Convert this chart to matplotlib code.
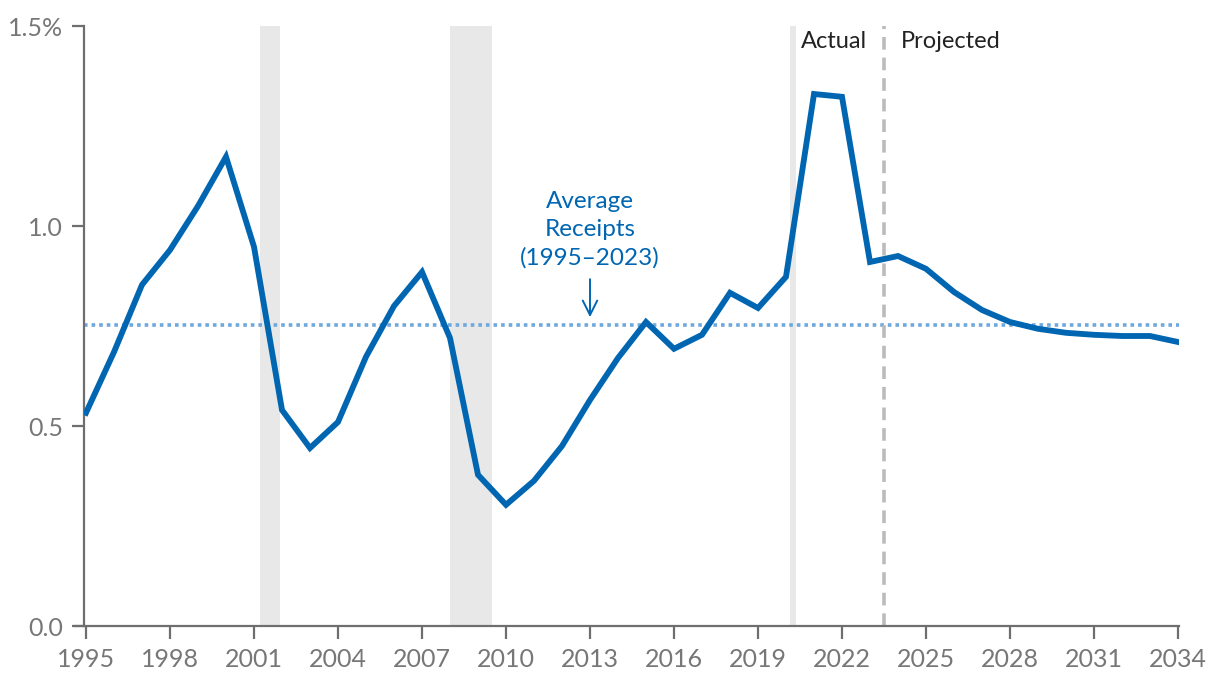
import matplotlib.pyplot as plt
import numpy as np

years = list(range(1995, 2035))
receipts = [0.533, 0.685, 0.853, 0.94, 1.05, 1.173, 0.948, 0.54, 0.445, 0.51,
            0.673, 0.80, 0.885, 0.72, 0.378, 0.303, 0.363, 0.45, 0.565, 0.67,
            0.76, 0.693, 0.728, 0.833, 0.795, 0.873, 1.33, 1.323, 0.91, 0.925,
            0.893, 0.835, 0.79, 0.76, 0.743, 0.733, 0.728, 0.725, 0.725, 0.71]
average = 0.752
recessions = [(2001.21, 2001.93), (2008.0, 2009.5), (2020.14, 2020.36)]
split_year = 2023.5
xticks = list(range(1995, 2035, 3))
yticks = [0.0, 0.5, 1.0, 1.5]
ylabels = ["0.0", "0.5", "1.0", "1.5%"]

blue = "#0066b2"
gray = "#6e6e6e"

plt.rcParams["font.family"] = ["Lato", "DejaVu Sans"]

fig = plt.figure(figsize=(12.2, 6.88), dpi=100)
ax = fig.add_axes([84 / 1220, 62 / 688, 1095 / 1220, 600 / 688])

for a, b in recessions:
    ax.axvspan(a, b, color="#e8e8e8", lw=0, zorder=0)

ax.axhline(average, color="#6fa8dc", lw=2.6, ls=(0, (1, 1.1)), zorder=1)
ax.axvline(split_year, color="#bbbbbb", lw=2.6, ls=(0, (3.5, 2.2)), zorder=1)
ax.plot(years, receipts, color=blue, lw=4.2, solid_joinstyle="miter", zorder=3)

ax.text(split_year - 0.6, 1.46, "Actual", ha="right", va="center",
        fontsize=17, color="#222222")
ax.text(split_year + 0.6, 1.46, "Projected", ha="left", va="center",
        fontsize=17, color="#222222")

ax.text(2013, 0.99, "Average\nReceipts\n(1995\u20132023)", ha="center", va="center",
        fontsize=17.5, color=blue, linespacing=1.4)
ax.annotate("", xy=(2013, 0.772), xytext=(2013, 0.867),
            arrowprops=dict(arrowstyle="->", color=blue, lw=1.4,
                            mutation_scale=26, shrinkA=0, shrinkB=0))

ax.set_xlim(1995 - 2 / 28, 2034 + 1 / 28)
ax.set_ylim(0, 1.5)
ax.set_xticks(xticks)
ax.set_yticks(yticks)
ax.set_yticklabels(ylabels)

for s in ["top", "right"]:
    ax.spines[s].set_visible(False)
for s in ["left", "bottom"]:
    ax.spines[s].set_color(gray)
    ax.spines[s].set_linewidth(1.6)
ax.spines["bottom"].set_bounds(1995 - 11 / 28, 2034 + 1 / 28)

ax.tick_params(axis="both", colors=gray, labelcolor="#777777", labelsize=18,
               length=9, width=1.6)
ax.tick_params(axis="x", pad=7)
ax.tick_params(axis="y", pad=6)

fig.savefig("out.png", dpi=100)
